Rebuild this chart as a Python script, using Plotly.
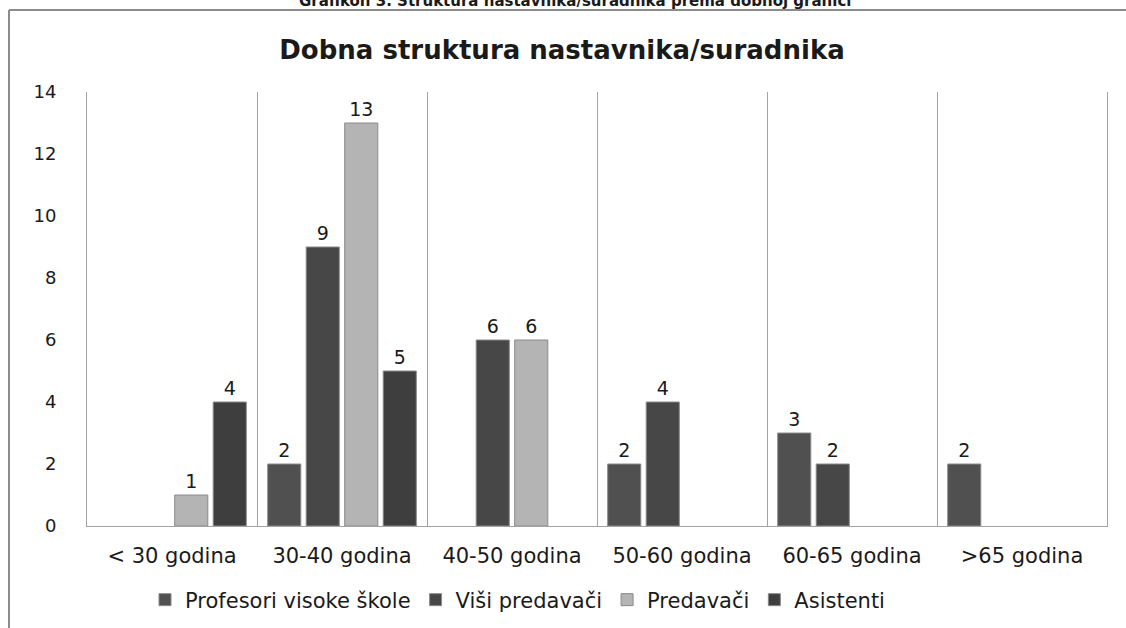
import plotly.graph_objects as go

categories = ["< 30 godina", "30-40 godina", "40-50 godina", "50-60 godina", "60-65 godina", ">65 godina"]
series_names = ["Profesori visoke škole", "Viši predavači", "Predavači", "Asistenti"]
profesori = [0, 2, 0, 2, 3, 2]
visi_predavaci = [0, 9, 6, 4, 2, 0]
predavaci = [1, 13, 6, 0, 0, 0]
asistenti = [4, 5, 0, 0, 0, 0]
y_ticks = [0, 2, 4, 6, 8, 10, 12, 14]

series_values = [profesori, visi_predavaci, predavaci, asistenti]
colors = ["#505050", "#474747", "#b4b4b4", "#3e3e3e"]

W, H = 1126, 628
L, R, T, B = 87, 19, 92, 102
pw, ph = W - L - R, H - T - B


def px_x(p):
    return (p - L) / pw


def px_y(p):
    return (H - B - p) / ph


fig = go.Figure()
for name, vals, col in zip(series_names, series_values, colors):
    fig.add_trace(go.Bar(
        name=name,
        x=categories,
        y=[v if v else None for v in vals],
        text=[str(v) if v else "" for v in vals],
        textposition="outside",
        textfont=dict(family="DejaVu Sans", size=19, color="#1a1a1a"),
        marker=dict(color=col, line=dict(color="#8a8a8a", width=1)),
        cliponaxis=False,
    ))

fig.update_layout(
    width=W, height=H,
    margin=dict(l=L, r=R, t=T, b=B, autoexpand=False),
    paper_bgcolor="white", plot_bgcolor="white",
    barmode="group", bargap=0.094, bargroupgap=0.14,
    font=dict(family="DejaVu Sans", color="#1a1a1a"),
    title=dict(
        text="<b>Dobna struktura nastavnika/suradnika</b>",
        x=562 / W, xanchor="center", y=1 - 50 / H, yanchor="middle",
        font=dict(family="DejaVu Sans", size=26, color="#1a1a1a"),
    ),
    showlegend=True,
    legend=dict(
        orientation="h", x=px_x(145), xanchor="left", y=px_y(600), yanchor="middle",
        font=dict(family="DejaVu Sans", size=21, color="#1a1a1a"),
        traceorder="normal", itemwidth=30,
    ),
    xaxis=dict(
        type="category", range=[-0.5, 5.5], tickson="boundaries",
        showgrid=True, gridcolor="#a3a3a3", gridwidth=1,
        showline=True, linecolor="#a3a3a3", linewidth=1,
        ticks="", ticklabelstandoff=11, automargin=False,
        tickfont=dict(family="DejaVu Sans", size=21, color="#1a1a1a"),
    ),
    yaxis=dict(
        range=[0, 14], tickvals=y_ticks, showgrid=False, zeroline=False,
        showline=True, mirror=True, linecolor="#a3a3a3", linewidth=1,
        ticks="", ticklabelstandoff=26, automargin=False,
        tickfont=dict(family="DejaVu Sans", size=18, color="#1a1a1a"),
    ),
    shapes=[
        dict(type="line", xref="paper", yref="paper", x0=px_x(9), x1=px_x(9),
             y0=px_y(10), y1=px_y(640), line=dict(color="#8c8c8c", width=2)),
        dict(type="line", xref="paper", yref="paper", x0=px_x(9), x1=px_x(1140),
             y0=px_y(10), y1=px_y(10), line=dict(color="#8c8c8c", width=2)),
    ],
    annotations=[
        dict(text="<b>Grafikon 3. Struktura nastavnika/suradnika prema dobnoj granici</b>",
             xref="paper", yref="paper", x=px_x(575), y=px_y(1), xanchor="center",
             yanchor="middle", showarrow=False,
             font=dict(family="DejaVu Sans", size=15, color="#1a1a1a")),
    ],
)

fig.write_html("out.html", config={"displayModeBar": False},
               post_script="document.body.style.margin='0';")
